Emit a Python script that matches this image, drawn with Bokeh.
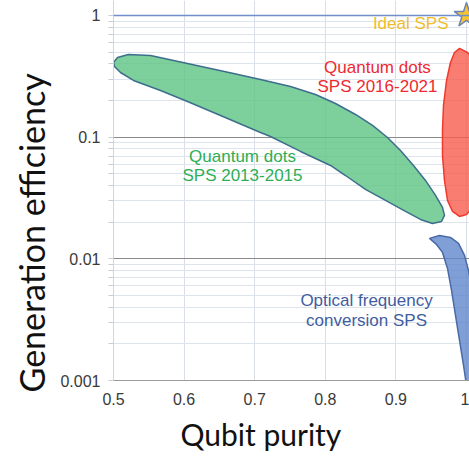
import math
from bokeh.plotting import figure
from bokeh.models import Range1d, FixedTicker, Span, Title
from bokeh.core.properties import value
from bokeh.embed import file_html
from bokeh.resources import INLINE

# ---- data (qubit purity, generation efficiency) ----
green_x = [0.5, 0.5057, 0.5212, 0.5524, 0.6048, 0.6700, 0.7082, 0.7507, 0.7861, 0.8144,
           0.8428, 0.8669, 0.8881, 0.9065, 0.9249, 0.9419, 0.9561, 0.9660, 0.9688, 0.9646,
           0.9518, 0.9348, 0.9136, 0.8853, 0.8569, 0.8286, 0.8074, 0.7649, 0.7224, 0.7082,
           0.6516, 0.6048, 0.5666, 0.5283, 0.5099, 0.5014]
green_y = [0.411, 0.452, 0.478, 0.469, 0.403, 0.334, 0.298, 0.261, 0.224, 0.189,
           0.1536, 0.1248, 0.0994, 0.0777, 0.0585, 0.0441, 0.0332, 0.02645, 0.02273, 0.0203,
           0.01954, 0.02108, 0.02452, 0.0302, 0.0372, 0.0484, 0.0585, 0.0763, 0.1013, 0.1093,
           0.1508, 0.1965, 0.2418, 0.2923, 0.340, 0.381]

red_x = [0.9901, 1.0014, 1.0113, 1.0198, 1.0255, 1.0269, 1.0255, 1.0198, 1.0113, 1.0,
         0.9901, 0.9802, 0.9731, 0.9688, 0.9660, 0.9660, 0.9674, 0.9717, 0.9773, 0.9830]
red_y = [0.536, 0.4966, 0.4268, 0.3214, 0.2002, 0.1093, 0.0585, 0.0365, 0.02746, 0.02316,
         0.0223, 0.02452, 0.0302, 0.0441, 0.0707, 0.1135, 0.1822, 0.2923, 0.411, 0.4966]

blue_x = [0.9476, 0.9618, 0.9773, 0.9887, 0.9972, 1.0028, 1.0085, 1.0142, 1.0170, 1.0184,
          1.0028, 1.0, 0.9958, 0.9901, 0.9844, 0.9788, 0.9731, 0.9660, 0.9575]
blue_y = [0.01472, 0.01557, 0.01499, 0.01338, 0.01067, 0.00803, 0.0055, 0.00312, 0.00146, 0.000686,
          0.000686, 0.000911, 0.00133, 0.002135, 0.00343, 0.0055, 0.00834, 0.01129, 0.01313]

ideal_x = [1.0]
ideal_y = [1.0]

x_ticks = [0.5, 0.6, 0.7, 0.8, 0.9, 1.0]
x_tick_labels = ["0.5", "0.6", "0.7", "0.8", "0.9", "1"]
y_ticks = [0.001, 0.01, 0.1, 1.0]
y_tick_labels = ["0.001", "0.01", "0.1", "1"]

labels_text = ["Ideal SPS", "Quantum dots", "SPS 2016-2021", "Quantum dots", "SPS 2013-2015",
               "Optical frequency", "conversion SPS"]

# ---- figure ----
p = figure(width=469, height=466, output_backend="svg", toolbar_location=None,
           x_range=Range1d(0.5, 1.00425), y_range=Range1d(0.001, 1.328),
           y_axis_type="log", min_border_left=113, min_border_right=0,
           min_border_top=0, min_border_bottom=86)
p.outline_line_color = None
p.background_fill_color = "white"
p.border_fill_color = "white"

minor = [m * d for d in y_ticks[:-1] for m in range(2, 10)]

p.xaxis.ticker = FixedTicker(ticks=x_ticks)
p.xaxis.major_label_overrides = dict(zip(x_ticks, x_tick_labels))
p.yaxis.ticker = FixedTicker(ticks=y_ticks, minor_ticks=minor)
p.yaxis.major_label_overrides = dict(zip(y_ticks, y_tick_labels))

for ax in (p.xaxis[0], p.yaxis[0]):
    ax.major_label_text_font = "Liberation Sans"
    ax.major_label_text_font_size = "16px"
    ax.major_label_text_color = "#3a3a3a"

p.xaxis.major_tick_line_color = None
p.xaxis.minor_tick_line_color = None
p.xaxis.major_tick_out = 0
p.xaxis.minor_tick_out = 0
p.xaxis.axis_line_color = "#9a9a9a"
p.xaxis.major_label_standoff = 12

p.yaxis.axis_line_color = "#cfd6e0"
p.yaxis.major_tick_line_color = "#c6ccd6"
p.yaxis.minor_tick_line_color = "#c6ccd6"
p.yaxis.major_tick_in = 0
p.yaxis.major_tick_out = 5
p.yaxis.minor_tick_in = 0
p.yaxis.minor_tick_out = 5
p.yaxis.major_label_standoff = 8

p.xgrid.ticker = FixedTicker(ticks=x_ticks)
p.xgrid.grid_line_color = "#dadee5"
p.ygrid.grid_line_color = "#8a8a8a"
p.ygrid.minor_grid_line_color = "#dde4ee"

top_line = Span(location=1.0, dimension="width", line_color="#6f8fcb", line_width=1.5)
p.add_layout(top_line)

p.patch(green_x, green_y, fill_color="#5cc482", fill_alpha=0.8,
        line_color="#3d6e8c", line_width=1.5)
p.patch(red_x, red_y, fill_color="#f85c4c", fill_alpha=0.8,
        line_color="#f03a2e", line_width=1.5)
p.patch(blue_x, blue_y, fill_color="#5f87cc", fill_alpha=0.8,
        line_color="#4a6aa8", line_width=1.5)

p.scatter(ideal_x, ideal_y, marker="star", size=26, fill_color="#f7c431",
          line_color="#6c84b8", line_width=1.5)

font = value("Liberation Sans")
p.text(x=[0.9745], y=[0.86], text=[labels_text[0]], text_align="right",
       text_baseline="middle", text_font=font, text_font_size="17px", text_color="#f1bd2b")
p.text(x=[0.8739, 0.8739], y=[0.374, 0.261], text=labels_text[1:3], text_align="center",
       text_baseline="middle", text_font=font, text_font_size="17px", text_color="#ee2a30")
p.text(x=[0.6827, 0.6827], y=[0.0694, 0.0484], text=labels_text[3:5], text_align="center",
       text_baseline="middle", text_font=font, text_font_size="17px", text_color="#2eae56")
p.text(x=[0.8584, 0.8584], y=[0.00455, 0.00312], text=labels_text[5:7], text_align="center",
       text_baseline="middle", text_font=font, text_font_size="17px", text_color="#3f5d9f")

x_title = Title(text="Qubit purity", align="left", offset=67, standoff=13,
                text_font="Lato", text_font_size="30px", text_font_style="normal",
                text_color="#111111")
y_title = Title(text="Generation efficiency", align="left", offset=-12, standoff=12,
                text_font="Lato", text_font_size="34px", text_font_style="normal",
                text_color="#111111")
p.add_layout(x_title, "below")
p.add_layout(y_title, "left")

open("out.html", "w").write(file_html(p, INLINE))
